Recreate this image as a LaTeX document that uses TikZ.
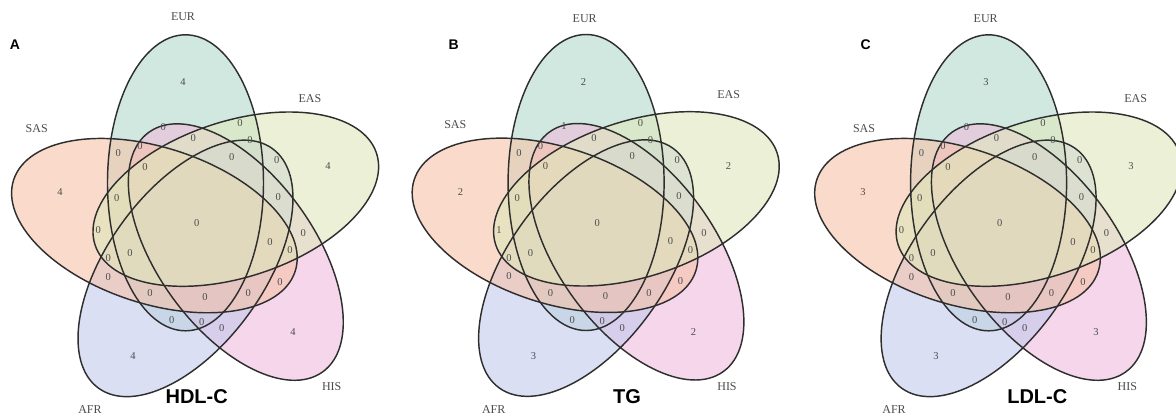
\documentclass[tikz,border=0pt]{standalone}
\usepackage{fontspec}
\setmainfont{Liberation Serif}
\newfontfamily\headfont{Liberation Sans}
\definecolor{cEUR}{RGB}{115,188,162}
\definecolor{cEAS}{RGB}{198,212,132}
\definecolor{cSAS}{RGB}{238,145,98}
\definecolor{cHIS}{RGB}{225,132,192}
\definecolor{cAFR}{RGB}{145,158,222}
\tikzset{
  vfill/.style={fill opacity=0.6},
  vline/.style={draw=black!82, line width=1.45pt},
  cnt/.style={text=black!70, font=\fontsize{10.5}{12}\selectfont, inner sep=0pt},
  setlab/.style={text=black!70, font=\fontsize{12}{14}\selectfont, inner sep=0pt},
  panlab/.style={font=\headfont\bfseries\fontsize{14}{16}\selectfont, inner sep=0pt},
  ttl/.style={font=\headfont\bfseries\fontsize{20}{22}\selectfont, inner sep=0pt},
}
\begin{document}
\begin{tikzpicture}[x=1pt,y=-1pt]
\useasboundingbox (0,0) rectangle (1176,416);
\fill[white] (0,0) rectangle (1176,416);
\foreach \id/\cx/\cy/\oa/\ob/\oc/\od/\oe/\va/\vb in
  {A/199.4/225.6/4/4/4/4/4/0/0, B/600/225.3/2/2/2/3/2/1/1, C/1002.5/225.6/3/3/3/3/3/0/0}{
  \begin{scope}[shift={(\cx,\cy)}]
    \begin{scope}[transparency group, opacity=0.55]
      \foreach \k/\c in {0/cEUR,2/cHIS,3/cAFR,4/cSAS,1/cEAS}
        \fill[\c, vfill, rotate=-72*\k] (108:45pt) ellipse [x radius=78pt, y radius=148pt];
    \end{scope}
    \foreach \k in {0,...,4}
      \draw[vline, rotate=-72*\k] (108:45pt) ellipse [x radius=78pt, y radius=148pt];
    % single-set counts: EUR, EAS, HIS, AFR, SAS
    \node[cnt] (\id-EUR) at (-16.4,-143.6) {\oa};
    \node[cnt] (\id-EAS) at (128.6,-59.6) {\ob};
    \node[cnt] (\id-HIS) at (93.6,106.4) {\oc};
    \node[cnt] (\id-AFR) at (-66.4,130.4) {\od};
    \node[cnt] (\id-SAS) at (-139.4,-33.6) {\oe};
    \node[cnt] (\id-all) at (-2.7,-2.3) {0};
    \foreach \dx/\dy/\v [count=\i] in {
      -36.1/-98.9/\va, 40.6/-102.3/0, -6.1/-87.3/0, -59.4/-79.6/0, -81.1/-72.3/0,
      50.6/-85.6/0, 32.3/-68.9/0, 77.3/-65.6/0, -54.4/-58.9/0, -82.7/-27.3/0,
      78.9/-28.9/0, -101.1/4.4/\vb, 103.9/7.7/0, 70.6/16.1/0, -91.1/32.7/0,
      -69.4/27.7/0, 90.6/24.4/0, -91.1/51.1/0, 80.6/56.1/0, -49.4/67.7/0,
      5.6/71.1/0, 48.9/67.7/0, -27.7/94.4/0, 2.3/96.1/0, 22.3/102.7/0}
      \node[cnt] (\id-r\i) at (\dx,\dy) {\v};
  \end{scope}
}
% set names
\node[setlab] (A-nEUR) at (183,17) {EUR};
\node[setlab] (A-nEAS) at (310,98.3) {EAS};
\node[setlab] (A-nSAS) at (36.7,128.3) {SAS};
\node[setlab] (A-nHIS) at (331.7,386.7) {HIS};
\node[setlab] (A-nAFR) at (90,410) {AFR};
\node[setlab] (B-nEUR) at (584.7,18.3) {EUR};
\node[setlab] (B-nEAS) at (728.7,95) {EAS};
\node[setlab] (B-nSAS) at (455.3,125) {SAS};
\node[setlab] (B-nHIS) at (727,386.7) {HIS};
\node[setlab] (B-nAFR) at (493.7,410) {AFR};
\node[setlab] (C-nEUR) at (985.7,18.3) {EUR};
\node[setlab] (C-nEAS) at (1135.7,98.3) {EAS};
\node[setlab] (C-nSAS) at (864,128.3) {SAS};
\node[setlab] (C-nHIS) at (1127.3,386.7) {HIS};
\node[setlab] (C-nAFR) at (894,410) {AFR};
% panel letters and titles
\node[panlab] (A-lab) at (15,45) {A};
\node[panlab] (B-lab) at (453.7,45) {B};
\node[panlab] (C-lab) at (865.7,45) {C};
\node[ttl] (A-ttl) at (196.7,396.7) {HDL-C};
\node[ttl] (B-ttl) at (627,396.7) {TG};
\node[ttl] (C-ttl) at (1037.3,396.7) {LDL-C};
\end{tikzpicture}
\end{document}
